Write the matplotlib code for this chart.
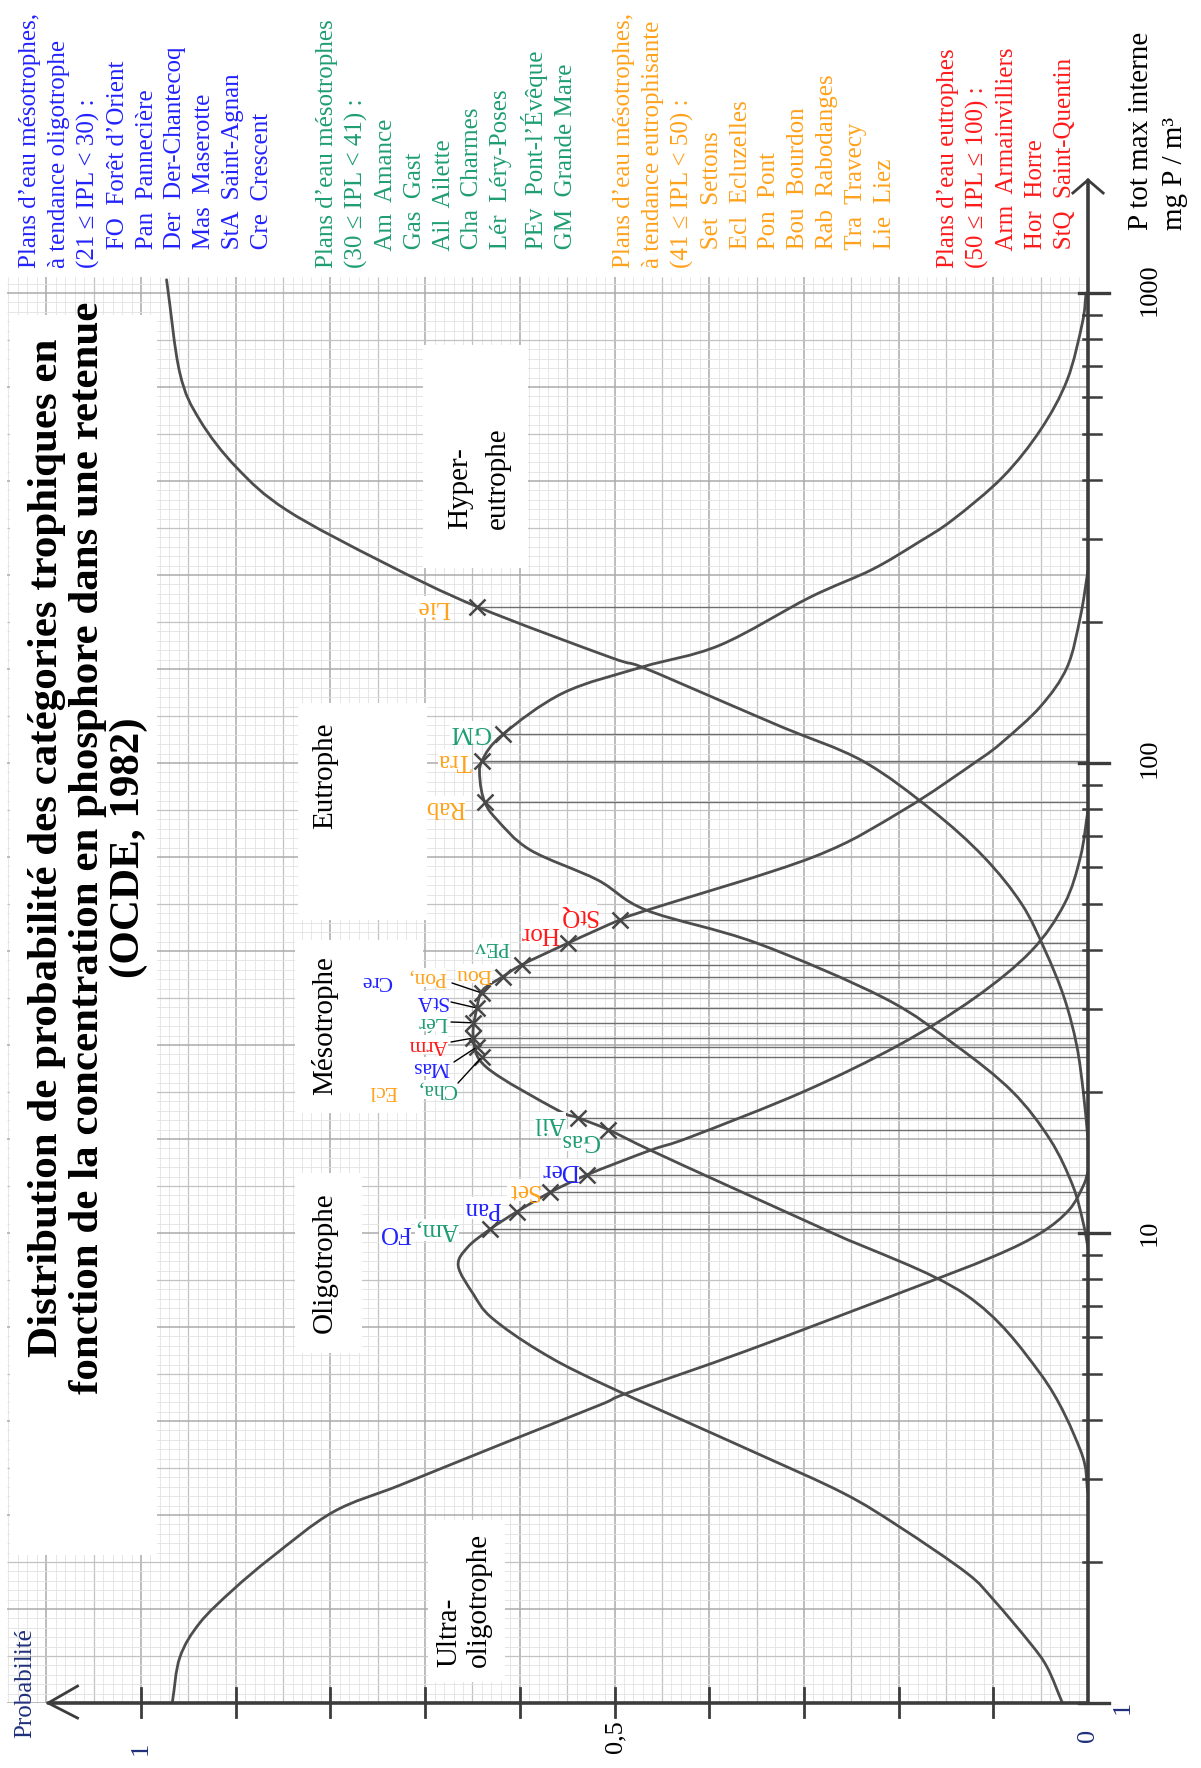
import matplotlib.pyplot as plt
import numpy as np
from matplotlib.patches import Rectangle, PathPatch
from matplotlib.path import Path

plt.rcParams['font.family'] = ['Liberation Serif', 'DejaVu Serif']

# --- curves: probability of each trophic class vs P tot (mg P / m3)
ultra_P = [1.0, 1.25, 1.48, 1.74, 2.05, 2.55, 2.91, 3.55, 4.31, 4.57, 5.62, 7.45, 8.91, 10.0, 11.2, 12.6,
           13.5]
ultra_prob = [0.967, 0.959, 0.938, 0.903, 0.861, 0.797, 0.726, 0.62, 0.515, 0.486, 0.36, 0.199, 0.10, 0.05,
              0.02, 0.005, 0.0]

oligo_P = [1.0, 1.19, 1.34, 1.66, 1.89, 2.37, 2.80, 3.45, 4.80, 5.62, 6.61, 7.41, 8.51, 9.33, 10.2, 11.1,
           12.2, 13.3, 15.0, 16.0, 20.0, 25.1, 31.6, 39.8, 50.1, 63.1, 79.4]
oligo_prob = [0.027, 0.043, 0.061, 0.10, 0.128, 0.199, 0.259, 0.357, 0.515, 0.58, 0.63, 0.649, 0.665, 0.655,
              0.631, 0.603, 0.568, 0.529, 0.462, 0.42, 0.30, 0.20, 0.12, 0.06, 0.025, 0.008, 0.0]

meso_P = [2.80, 3.45, 5.01, 7.41, 10.0, 12.6, 15.0, 16.6, 17.6, 18.3, 22.5, 26.1, 30.3, 32.9, 35.1, 37.2,
          41.4, 46.4, 48.6, 63.1, 79.4, 101, 111, 132, 160, 205, 257]
meso_prob = [0.0, 0.008, 0.05, 0.13, 0.27, 0.38, 0.462, 0.507, 0.539, 0.561, 0.635, 0.649, 0.645, 0.639,
             0.618, 0.598, 0.549, 0.494, 0.466, 0.29, 0.195, 0.117, 0.09, 0.05, 0.022, 0.008, 0.0]

eu_P = [9.3, 10.5, 12.6, 15.8, 20.0, 25.1, 31.6, 41.4, 48.6, 56.4, 65.3, 75.7, 82.6, 92.0, 101, 115, 141,
        160, 178, 225, 258, 294, 329, 406, 512, 653, 863, 1000]
eu_prob = [0.0, 0.005, 0.016, 0.04, 0.08, 0.14, 0.215, 0.35, 0.466, 0.518, 0.589, 0.624, 0.637, 0.642, 0.64,
           0.618, 0.554, 0.471, 0.389, 0.294, 0.228, 0.18, 0.143, 0.09, 0.05, 0.022, 0.006, 0.002]

hyper_P = [15.8, 20.0, 25.1, 31.6, 39.8, 50.1, 63.1, 79.4, 101, 119, 136, 160, 168, 215, 267, 345, 425,
           537, 676, 1067]
hyper_prob = [0.0, 0.005, 0.012, 0.025, 0.045, 0.07, 0.11, 0.165, 0.238, 0.322, 0.389, 0.471, 0.505, 0.645,
              0.744, 0.846, 0.899, 0.938, 0.959, 0.973]

# --- lakes placed on the curves
lake_codes = ["Am, FO", "Pan", "Set", "Der", "Gas", "Ail", "Cha, Ecl", "Mas", "Arm", "Lér", "StA",
              "Pon, Cre", "Bou", "PEv", "Hor", "StQ", "Rab", "Tra", "GM", "Lie"]
lake_P = [10.2, 11.1, 12.2, 13.3, 16.6, 17.6, 23.7, 24.9, 26.0, 28.0, 30.1, 32.4, 35.1, 37.2, 41.4, 46.4,
          82.6, 101, 115, 215]
lake_prob = [0.631, 0.603, 0.568, 0.529, 0.507, 0.539, 0.640, 0.645, 0.649, 0.649, 0.645, 0.640, 0.618,
             0.598, 0.549, 0.494, 0.637, 0.640, 0.618, 0.645]

# --- legend groups
blue_codes = ["FO", "Pan", "Der", "Mas", "StA", "Cre"]
blue_names = ["Forêt d’Orient", "Pannecière", "Der-Chantecoq", "Maserotte", "Saint-Agnan", "Crescent"]
green_codes = ["Am", "Gas", "Ail", "Cha", "Lér", "PEv", "GM"]
green_names = ["Amance", "Gast", "Ailette", "Charmes", "Léry-Poses", "Pont-l’Évêque", "Grande Mare"]
orange_codes = ["Set", "Ecl", "Pon", "Bou", "Rab", "Tra", "Lie"]
orange_names = ["Settons", "Ecluzelles", "Pont", "Bourdon", "Rabodanges", "Travecy", "Liez"]
red_codes = ["Arm", "Hor", "StQ"]
red_names = ["Armainvilliers", "Horre", "Saint-Quentin"]

BLUE, GREEN, ORANGE, RED = '#2222ff', '#1f9e72', '#ffa21c', '#ff1a1a'
code_color = {}
for codes, col in [(blue_codes, BLUE), (green_codes, GREEN), (orange_codes, ORANGE), (red_codes, RED)]:
    for c in codes:
        code_color[c] = col

W, H = 1201, 1768


def fx(x):
    return x / W


def fy(y):
    return 1 - y / H


def smooth(xs, ps):
    # hand-drawn look: catmull-rom through the read points, in (prob, log P) space
    pts = np.column_stack([xs, np.log10(ps)])
    ext = np.vstack([2 * pts[0] - pts[1], pts, 2 * pts[-1] - pts[-2]])
    verts, codes = [pts[0]], [Path.MOVETO]
    for i in range(1, len(ext) - 2):
        p0, p1, p2, p3 = ext[i - 1], ext[i], ext[i + 1], ext[i + 2]
        verts += [p1 + (p2 - p0) / 6, p2 - (p3 - p1) / 6, p2]
        codes += [Path.CURVE4] * 3
    verts = np.array(verts)
    verts[:, 1] = 10 ** verts[:, 1]
    return Path(verts, codes)


fig = plt.figure(figsize=(W / 100, H / 100), dpi=100)
ax = fig.add_axes([fx(7), fy(1703), fx(1088) - fx(7), fy(277) - fy(1703)])
pmax = (1088 - 7) / 947
Ptop = 10 ** ((1703 - 277) / 470)
ax.set_xlim(pmax, 0)
ax.set_yscale('log')
ax.set_ylim(1, Ptop)
ax.axis('off')

# graph paper
pv = np.round(np.arange(0, pmax, 0.01), 3)
for i, v in enumerate(pv):
    if i % 10 == 0:
        c, lw = '#ababab', 1.1
    elif i % 5 == 0:
        c, lw = '#c2c2c2', 0.9
    else:
        c, lw = '#e2e2e2', 0.6
    ax.vlines(v, 1, Ptop, color=c, lw=lw, zorder=1)
lv = np.arange(0, 3.034, 0.02)
for i, v in enumerate(lv):
    if i % 10 == 0:
        c, lw = '#ababab', 1.1
    elif i % 5 == 0:
        c, lw = '#c2c2c2', 0.9
    else:
        c, lw = '#e2e2e2', 0.6
    ax.hlines(10 ** v, 0, pmax, color=c, lw=lw, zorder=1)


def white(x0, y0, x1, y1):
    ax.add_patch(Rectangle((fx(x0), fy(y1)), fx(x1) - fx(x0), fy(y0) - fy(y1),
                           transform=fig.transFigure, fc='white', ec='none', zorder=2, clip_on=False))


white(10, 315, 157, 1555)     # title
white(298, 703, 427, 920)     # eutrophe
white(295, 940, 423, 1113)    # mesotrophe
white(295, 1173, 362, 1353)   # oligotrophe
white(423, 345, 528, 568)     # hyper
white(428, 1520, 505, 1682)   # ultra

# curves
for xs, ys in [(ultra_prob, ultra_P), (oligo_prob, oligo_P), (meso_prob, meso_P),
               (eu_prob, eu_P), (hyper_prob, hyper_P)]:
    ax.add_patch(PathPatch(smooth(xs, ys), fill=False, ec='#4d4d4d', lw=2.0, zorder=4,
                           capstyle='round', joinstyle='round'))

# lake markers and their lines to the P axis
ax.hlines(lake_P, 0, lake_prob, color='#6e6e6e', lw=1.0, zorder=3)
ax.plot(lake_prob, lake_P, 'x', ms=11, mew=1.8, color='#474747', zorder=5)

# axes (drawn by hand, like the paper)
axis_kw = dict(color='#3c3c3c', lw=2.6, zorder=6, clip_on=False, solid_capstyle='round')
Parrow = 10 ** ((1703 - 180) / 470)
ax.plot([0, 0], [1, Parrow], **axis_kw)
ax.plot([0.016, 0, -0.016], [10 ** ((1703 - 193) / 470), Parrow, 10 ** ((1703 - 193) / 470)],
        color='#3c3c3c', lw=2.0, zorder=6, clip_on=False)
ax.plot([0, 1.098], [1, 1], **axis_kw)
ax.plot([1.067, 1.098, 1.067], [10 ** 0.036, 1, 10 ** -0.032], color='#3c3c3c', lw=2.0, zorder=6,
        clip_on=False)
for p in np.round(np.arange(0.1, 1.01, 0.1), 2):
    ax.plot([p, p], [10 ** -0.03, 10 ** 0.032], color='#3c3c3c', lw=2.0, zorder=6, clip_on=False)
for k in range(3):
    for m in range(1, 10):
        v = m * 10 ** k
        big = m == 1
        ax.plot([0.009 if big else 0.005, -0.022 if big else -0.014], [v, v], color='#3c3c3c',
                lw=2.4 if big else 1.8, zorder=6, clip_on=False)
ax.plot([0.009, -0.022], [1000, 1000], color='#3c3c3c', lw=2.4, zorder=6, clip_on=False)

# lake labels (upside down, like the pasted labels of the scan)
label_layout = [("Am,", 437, 1230), ("FO", 395, 1232), ("Pan", 483, 1208), ("Set", 523, 1190),
                ("Der", 560, 1170), ("Gas", 580, 1140), ("Ail", 550, 1123), ("Cha,", 437, 1089),
                ("Ecl", 383, 1091), ("Mas", 431, 1066), ("Arm", 428, 1044), ("Lér", 432, 1022),
                ("StA", 431, 1000), ("Pon,", 427, 977), ("Cre", 377, 980), ("Bou", 474, 973),
                ("PEv", 492, 947), ("Hor", 540, 933), ("StQ", 578, 915), ("Rab", 445, 807),
                ("Tra", 455, 760), ("GM", 470, 732), ("Lie", 433, 607)]
tight = {"Cha,", "Ecl", "Mas", "Arm", "Lér", "StA", "Pon,", "Cre", "Bou", "PEv"}
for txt, x, y in label_layout:
    fig.text(fx(x), fy(y), txt, rotation=180, ha='center', va='center',
             fontsize=15.5 if txt in tight else 18, color=code_color[txt.rstrip(',')],
             bbox=dict(fc='white', ec='none', pad=0.0))

leaders = {"Pon, Cre": (452, 983), "StA": (451, 1002), "Lér": (451, 1022), "Arm": (451, 1042),
           "Mas": (454, 1062), "Cha, Ecl": (458, 1083)}
for code, (x, y) in leaders.items():
    i = lake_codes.index(code)
    ax.annotate('', xy=(lake_prob[i], lake_P[i]), xycoords='data',
                xytext=(fx(x), fy(y)), textcoords='figure fraction',
                arrowprops=dict(arrowstyle='-', color='black', lw=1.0, shrinkA=0, shrinkB=2), zorder=6)

# class names
cls_kw = dict(rotation=90, fontsize=21, color='black', multialignment='left')
fig.text(fx(464), fy(1667), "Ultra-\noligotrophe", ha='center', va='bottom', linespacing=1.2, **cls_kw)
fig.text(fx(325), fy(1263), "Oligotrophe", ha='center', va='center', **cls_kw)
fig.text(fx(325), fy(1026), "Mésotrophe", ha='center', va='center', **cls_kw)
fig.text(fx(325), fy(776), "Eutrophe", ha='center', va='center', **cls_kw)
fig.text(fx(479), fy(529), "Hyper-\neutrophe", ha='center', va='bottom', linespacing=1.62, **cls_kw)

# title
fig.text(fx(88), fy(848),
         "Distribution de probabilité des catégories trophiques en\n"
         "fonction de la concentration en phosphore dans une retenue\n(OCDE, 1982)",
         rotation=90, ha='center', va='center', multialignment='center', fontsize=31,
         fontweight='bold', linespacing=1.1)


# legend blocks
def block(x, header, codes, names, color):
    lines = header + ["   " + c + "  " + n for c, n in zip(codes, names)]
    fig.text(fx(x), fy(268), "\n".join(lines), rotation=90, ha='left', va='bottom',
             multialignment='left', fontsize=18, color=color, linespacing=1.40)


block(19, ["Plans d’eau mésotrophes,", "à tendance oligotrophe", "(21 ≤ IPL < 30) :"],
      blue_codes, blue_names, BLUE)
block(316, ["Plans d’eau mésotrophes", "(30 ≤ IPL < 41) :"], green_codes, green_names, GREEN)
block(613, ["Plans d’eau mésotrophes,", "à tendance eutrophisante", "(41 ≤ IPL < 50) :"],
      orange_codes, orange_names, ORANGE)
block(937, ["Plans d’eau eutrophes", "(50 ≤ IPL ≤ 100) :"], red_codes, red_names, RED)

# axis texts
fig.text(fx(1128), fy(230), "P tot max interne\nmg P / m³", rotation=90, ha='left', va='bottom',
         multialignment='left', fontsize=21, linespacing=1.4)
NAVY = '#1f2f7a'
fig.text(fx(25), fy(1683), "Probabilité", rotation=90, ha='center', va='center', fontsize=18, color=NAVY)
tick_kw = dict(rotation=90, ha='center', va='center', fontsize=19)
fig.text(fx(1123), fy(1707), "1", color=NAVY, **tick_kw)
fig.text(fx(1150), fy(1233), "10", **tick_kw)
fig.text(fx(1150), fy(758), "100", **tick_kw)
fig.text(fx(1150), fy(290), "1000", **tick_kw)
fig.text(fx(1088), fy(1735), "0", color=NAVY, **tick_kw)
fig.text(fx(615), fy(1737), "0,5", **tick_kw)
fig.text(fx(141), fy(1748), "1", color=NAVY, **tick_kw)

fig.savefig('out.png', dpi=100, facecolor='white')
